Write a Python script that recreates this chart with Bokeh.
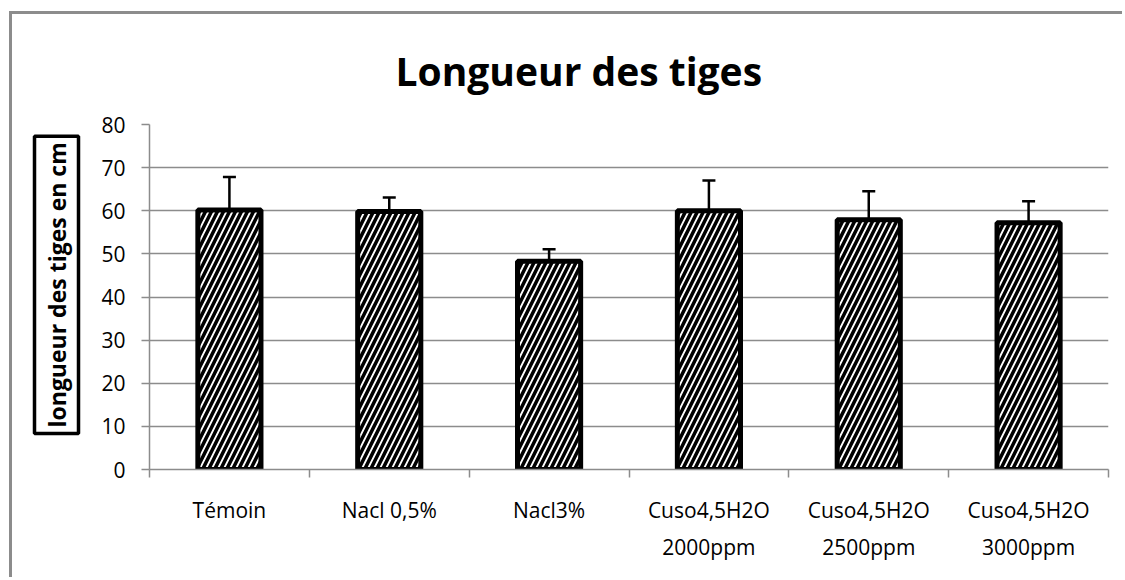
from bokeh.plotting import figure
from bokeh.models import Range1d, FixedTicker, Whisker, ColumnDataSource, Title
from bokeh.embed import file_html
from bokeh.resources import INLINE

categories = ["Témoin", "Nacl 0,5%", "Nacl3%", "Cuso4,5H2O\n2000ppm",
              "Cuso4,5H2O\n2500ppm", "Cuso4,5H2O\n3000ppm"]
means = [60.2, 59.8, 48.3, 60.0, 57.9, 57.2]
errors = [7.6, 3.3, 2.8, 7.0, 6.6, 5.0]
y_ticks = [0, 10, 20, 30, 40, 50, 60, 70, 80]
title_text = "Longueur des tiges"
ylabel_text = "longueur des tiges en cm"

FONT = "Open Sans"
GRID = "#8c8c8c"

xs = [i + 0.5 for i in range(len(categories))]
src = ColumnDataSource(dict(x=xs, top=means,
                            upper=[m + e for m, e in zip(means, errors)]))

W, H = 1113, 566
p = figure(width=W, height=H, output_backend="svg", toolbar_location=None,
           x_range=Range1d(0, len(categories)), y_range=Range1d(0, 80),
           min_border_left=137, min_border_right=17, min_border_top=110,
           min_border_bottom=111,
           styles={"margin-left": "9px", "margin-top": "11px",
                   "border-left": "3px solid #8c8c8c",
                   "border-top": "3px solid #8c8c8c"})
p.outline_line_color = None
p.background_fill_color = "white"
p.border_fill_color = "white"

p.vbar(x="x", top="top", bottom=0, width=0.395, source=src,
       fill_color="white", line_color="black", line_width=5,
       hatch_pattern="/", hatch_color="black", hatch_weight=3.5, hatch_scale=12)

wh = Whisker(base="x", lower="top", upper="upper", source=src,
             line_color="black", line_width=2.5)
wh.upper_head.size = 13
wh.upper_head.line_width = 2.5
wh.upper_head.line_color = "black"
wh.lower_head = None
p.add_layout(wh)

# x axis
p.xaxis.ticker = FixedTicker(ticks=xs, minor_ticks=list(range(len(categories) + 1)))
p.xaxis.major_label_overrides = {x: c for x, c in zip(xs, categories)}
p.xaxis.major_tick_line_color = None
p.xaxis.minor_tick_out = 8
p.xaxis.minor_tick_in = 0
p.xaxis.minor_tick_line_color = GRID
p.xaxis.minor_tick_line_width = 1.5
p.xaxis.axis_line_color = GRID
p.xaxis.axis_line_width = 1.5
p.xaxis.major_label_standoff = 18
p.xaxis.major_label_text_font = FONT
p.xaxis.major_label_text_font_size = "21px"
p.xaxis.major_label_text_color = "black"
p.xaxis.major_label_text_line_height = 1.35
p.xgrid.grid_line_color = None

# y axis
p.yaxis.ticker = FixedTicker(ticks=y_ticks, minor_ticks=[])
p.yaxis.major_tick_out = 8
p.yaxis.major_tick_in = 0
p.yaxis.major_tick_line_color = GRID
p.yaxis.major_tick_line_width = 1.5
p.yaxis.axis_line_color = GRID
p.yaxis.axis_line_width = 1.5
p.yaxis.major_label_standoff = 16
p.yaxis.major_label_text_font = FONT
p.yaxis.major_label_text_font_size = "21px"
p.yaxis.major_label_text_color = "black"
p.ygrid.grid_line_color = GRID
p.ygrid.grid_line_width = 1.5

# title
p.title.text = title_text
p.title.text_font = FONT
p.title.text_font_style = "bold"
p.title.text_font_size = "39px"
p.title.text_color = "black"
p.title.align = "left"
p.title.offset = 246
p.title.standoff = 55

# y label with box
p.add_layout(Title(text=ylabel_text, text_font=FONT, text_font_style="bold",
                   text_font_size="23px", text_color="black", align="left",
                   offset=36, standoff=40, border_line_color="black",
                   border_line_width=3.5, background_fill_color="white",
                   padding=6), "left")

open("out.html", "w").write(file_html(p, INLINE))
